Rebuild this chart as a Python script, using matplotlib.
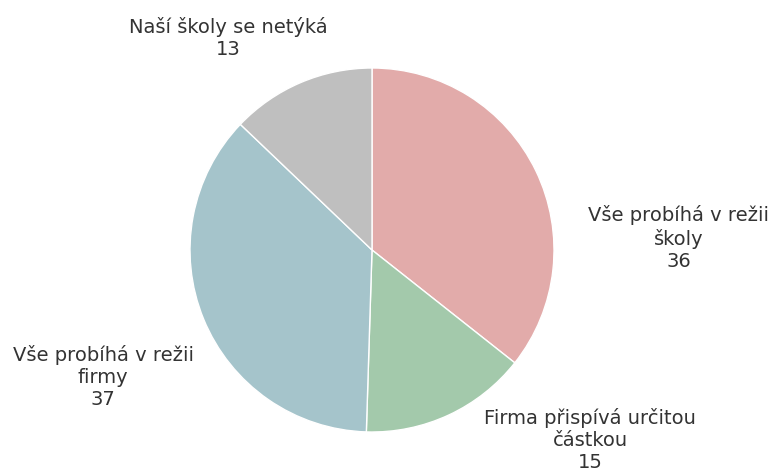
import matplotlib.pyplot as plt

# data
labels = ["Vše probíhá v režii\nškoly", "Firma přispívá určitou\nčástkou",
          "Vše probíhá v režii\nfirmy", "Naší školy se netýká"]
values = [36, 15, 37, 13]
colors = ["#E2ABAA", "#A3C9AB", "#A5C4CB", "#BFBFBF"]

# label anchor points (pie radius = 1)
label_pos = [(1.685, 0.066), (1.198, -1.044), (-1.478, -0.698), (-0.791, 1.165)]

fig = plt.figure(figsize=(7.77, 4.68), dpi=100)
ax = fig.add_axes([0, 0, 1, 1])

ax.pie(values, colors=colors, startangle=90, counterclock=False,
       radius=1, center=(0, 0), frame=True,
       wedgeprops={"edgecolor": "white", "linewidth": 1})

for lab, v, (x, y) in zip(labels, values, label_pos):
    ax.text(x, y, f"{lab}\n{v}", ha="center", va="center", fontsize=14,
            color="#333333", linespacing=1.2, family="DejaVu Sans")

# place pie centre at (372, 250) px with radius 182 px
r = 182
ax.set_xlim(-372 / r, (777 - 372) / r)
ax.set_ylim(-(468 - 250) / r, 250 / r)
ax.set_aspect("auto")
ax.axis("off")

fig.savefig("out.png", dpi=100)
